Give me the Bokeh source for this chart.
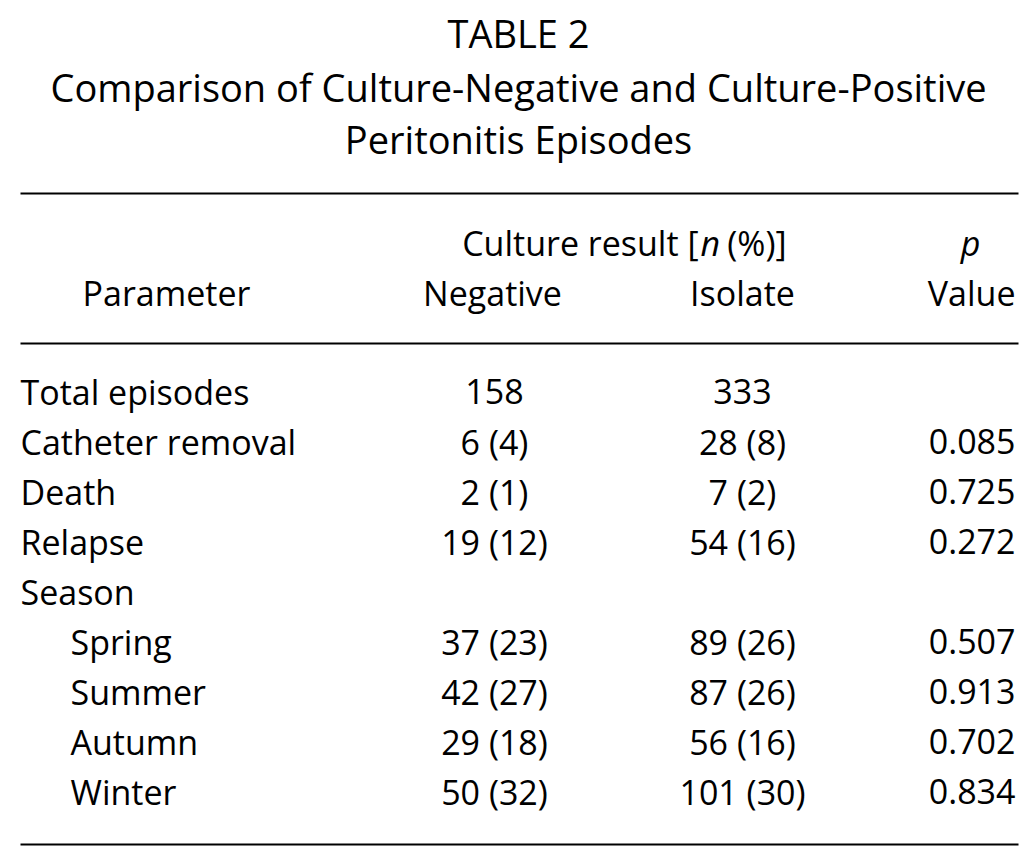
from bokeh.plotting import figure
from bokeh.models import Range1d, ColumnDataSource
from bokeh.core.properties import value
from bokeh.embed import file_html
from bokeh.resources import INLINE

# ---- data ----
title_lines = ["TABLE 2", "Comparison of Culture-Negative and Culture-Positive", "Peritonitis Episodes"]
parameters = ["Total episodes", "Catheter removal", "Death", "Relapse", "Season",
              "Spring", "Summer", "Autumn", "Winter"]
indented = [False, False, False, False, False, True, True, True, True]
negative = ["158", "6 (4)", "2 (1)", "19 (12)", "", "37 (23)", "42 (27)", "29 (18)", "50 (32)"]
isolate = ["333", "28 (8)", "7 (2)", "54 (16)", "", "89 (26)", "87 (26)", "56 (16)", "101 (30)"]
p_values = ["", "0.085", "0.725", "0.272", "", "0.507", "0.913", "0.702", "0.834"]

FONT = "Open Sans"
BODY = "34px"
TITLE = "38px"

p = figure(width=1020, height=848, output_backend="svg", toolbar_location=None,
           x_range=Range1d(0, 1020), y_range=Range1d(848, 0), min_border=0)
p.axis.visible = False
p.grid.visible = False
p.outline_line_color = None
p.background_fill_color = "white"
p.border_fill_color = "white"

# title
p.text(x=[518] * 3, y=[32, 86, 138], text=title_lines, text_align="center",
       text_baseline="middle", text_font=value(FONT), text_font_size=TITLE, text_color="black")

# rules
p.segment(x0=[20, 20, 20], y0=[193, 343, 844], x1=[1018, 1018, 1018], y1=[193, 343, 844],
          line_color="black", line_width=2)

# header
p.text(x=[698], y=[242], text=["Culture result ["], text_align="right", text_baseline="middle",
       text_font=value(FONT), text_font_size=BODY)
p.text(x=[700], y=[242], text=["n"], text_align="left", text_baseline="middle",
       text_font=value(FONT), text_font_size=BODY, text_font_style="italic")
p.text(x=[718], y=[242], text=["\u00a0(%)]"], text_align="left", text_baseline="middle",
       text_font=value(FONT), text_font_size=BODY)
p.text(x=[970], y=[242], text=["p"], text_align="center", text_baseline="middle",
       text_font=value(FONT), text_font_size=BODY, text_font_style="italic")
p.text(x=[166, 492, 742], y=[292] * 3, text=["Parameter", "Negative", "Isolate"], text_align="center",
       text_baseline="middle", text_font=value(FONT), text_font_size=BODY)
p.text(x=[1015], y=[292], text=["Value"], text_align="right", text_baseline="middle",
       text_font=value(FONT), text_font_size=BODY)

# body
ys = [391 + 50 * i for i in range(len(parameters))]
xs = [70 if ind else 20 for ind in indented]
src = ColumnDataSource(dict(x=xs, y=ys, param=parameters, neg=negative, iso=isolate, pv=p_values))
p.text(x="x", y="y", text="param", source=src, text_align="left", text_baseline="middle",
       text_font=value(FONT), text_font_size=BODY)
p.text(x=494, y="y", text="neg", source=src, text_align="center", text_baseline="middle",
       text_font=value(FONT), text_font_size=BODY)
p.text(x=742, y="y", text="iso", source=src, text_align="center", text_baseline="middle",
       text_font=value(FONT), text_font_size=BODY)
p.text(x=1015, y="y", text="pv", source=src, text_align="right", text_baseline="middle",
       text_font=value(FONT), text_font_size=BODY)

open("out.html", "w").write(file_html(p, INLINE))
